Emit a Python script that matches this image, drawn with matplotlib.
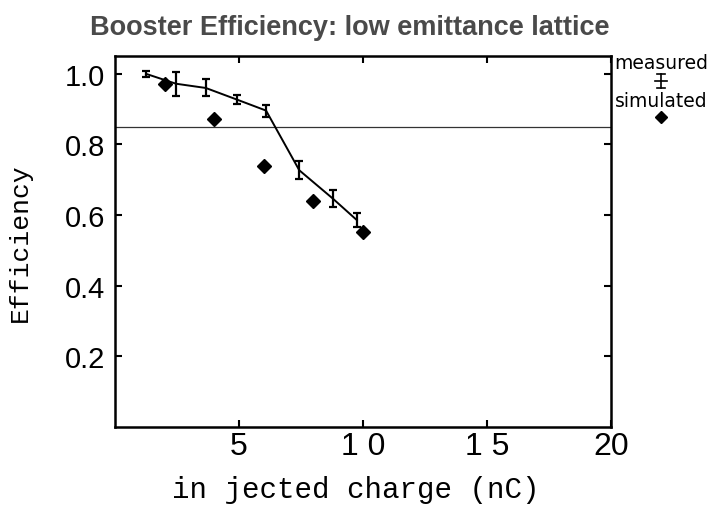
import matplotlib
matplotlib.use('Agg')
import matplotlib.pyplot as plt

# measured efficiency (with error bars)
meas_q = [1.25, 2.46, 3.66, 4.92, 6.09, 7.43, 8.78, 9.75]
meas_eff = [1.0, 0.972, 0.960, 0.927, 0.896, 0.727, 0.647, 0.586]
meas_err = [0.009, 0.034, 0.024, 0.013, 0.017, 0.025, 0.025, 0.021]

# simulated efficiency
sim_q = [2, 4, 6, 8, 10]
sim_eff = [0.970, 0.871, 0.738, 0.640, 0.551]

ref_level = 0.85

xticks = [5, 10, 15, 20]
xticklabels = ['5', '1 0', '1 5', '20']
yticks = [0.2, 0.4, 0.6, 0.8, 1.0]
yticklabels = ['0.2', '0.4', '0.6', '0.8', '1.0']

mono = 'Liberation Mono'
sans = 'Liberation Sans'

fig = plt.figure(figsize=(7.1, 5.06), dpi=100)
ax = fig.add_axes([0.162, 0.154, 0.6986, 0.733])

ax.errorbar(meas_q, meas_eff, yerr=meas_err, color='black', lw=1.4,
            elinewidth=1.6, capsize=3, capthick=1.6)
ax.plot(sim_q, sim_eff, 'D', color='black', markersize=7)
ax.axhline(ref_level, color='#333333', lw=0.9)

ax.set_xlim(0, 20)
ax.set_ylim(0, 1.05)
ax.set_xticks(xticks)
ax.set_xticklabels(xticklabels, family=sans, fontsize=23)
ax.set_yticks(yticks)
ax.set_yticklabels(yticklabels, family=sans, fontsize=21)
ax.tick_params(direction='in', length=5, width=1.5, top=True, right=True)
ax.tick_params(axis='x', pad=3)
ax.tick_params(axis='y', pad=7)
for s in ax.spines.values():
    s.set_linewidth(1.8)

ax.set_xlabel('in jected charge (nC)', family=mono, fontsize=21, labelpad=8)
ax.xaxis.set_label_coords(0.485, -0.13)
ax.set_ylabel('Efficiency', family=mono, fontsize=19, labelpad=24)

fig.text(0.493, 0.93, 'Booster Efficiency: low emittance lattice',
         ha='center', va='baseline', fontsize=19.5, fontweight='bold',
         family=sans, color='#4a4a4a')

# legend on the right
fig.text(0.931, 0.875, 'measured', ha='center', va='center', fontsize=13.5,
         family='DejaVu Sans')
fig.text(0.931, 0.80, 'simulated', ha='center', va='center', fontsize=13.5,
         family='DejaVu Sans')
lx, ly = 0.931, 0.838
fig.add_artist(plt.Line2D([lx - 0.008, lx + 0.008], [ly, ly], color='black', lw=1.2))
fig.add_artist(plt.Line2D([lx, lx], [ly - 0.014, ly + 0.014], color='black', lw=1.2))
fig.add_artist(plt.Line2D([lx - 0.005, lx + 0.005], [ly + 0.014, ly + 0.014], color='black', lw=1.2))
fig.add_artist(plt.Line2D([lx - 0.005, lx + 0.005], [ly - 0.014, ly - 0.014], color='black', lw=1.2))
fig.add_artist(plt.Line2D([lx], [0.767], marker='D', color='black', markersize=6.5))

fig.savefig('out.png', dpi=100)
